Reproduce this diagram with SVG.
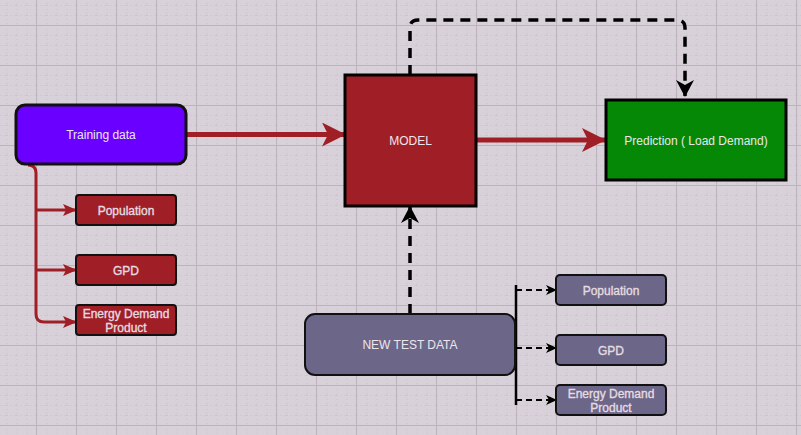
<svg xmlns="http://www.w3.org/2000/svg" width="801" height="435" viewBox="0 0 801 435">
  <defs>
    <pattern id="minor" width="10" height="10" patternUnits="userSpaceOnUse" x="6.5" y="5">
      <path d="M0.5,0 V10 M0,0.5 H10" stroke="#b9b0ba" stroke-width="1" stroke-dasharray="1,3" fill="none" opacity="0.5"/>
    </pattern>
    <pattern id="major" width="40" height="40" patternUnits="userSpaceOnUse" x="36" y="25">
      <path d="M0.5,0 V40 M0,0.5 H40" stroke="#bcb3bd" stroke-width="1" fill="none"/>
    </pattern>
    <marker id="bigRed" markerUnits="userSpaceOnUse" viewBox="0 0 24 24" markerWidth="24" markerHeight="24" refX="23" refY="12" orient="auto">
      <path d="M0,0 L24,12 L0,24 L6,12 z" fill="#a01f27"/>
    </marker>
    <marker id="smallRed" markerUnits="userSpaceOnUse" viewBox="0 0 14 12" markerWidth="14" markerHeight="12" refX="13" refY="6" orient="auto">
      <path d="M0,0 L14,6 L0,12 L3,6 z" fill="#a01f27"/>
    </marker>
    <marker id="blackBig" markerUnits="userSpaceOnUse" viewBox="0 0 17 18" markerWidth="17" markerHeight="18" refX="16" refY="9" orient="auto">
      <path d="M0,0 L17,9 L0,18 L5,9 z" fill="#000"/>
    </marker>
    <marker id="blackSmall" markerUnits="userSpaceOnUse" viewBox="0 0 11 10" markerWidth="11" markerHeight="10" refX="10" refY="5" orient="auto">
      <path d="M0,0 L11,5 L0,10 L3,5 z" fill="#000"/>
    </marker>
  </defs>
  <style>
    .lbl { font-family: "Liberation Sans", Arial, sans-serif; font-size: 12px; fill: #ece6ec; text-anchor: middle; }
    .sm { font-family: "Liberation Sans", Arial, sans-serif; font-size: 12px; fill: #e4dce0; stroke: #e4dce0; stroke-width: 0.35; text-anchor: middle; }
    .redbox { fill: #a01f27; stroke: #111; stroke-width: 2; }
    .slate { fill: #6c6688; stroke: #111; stroke-width: 2; }
    .redline { stroke: #a01f27; fill: none; }
    .dash { stroke: #000; fill: none; }
  </style>
  <rect width="801" height="435" fill="#d8d1d9"/>
  <rect width="801" height="435" fill="url(#minor)"/>
  <rect width="801" height="435" fill="url(#major)"/>

  <g id="connectors">
    <line class="redline" x1="186" y1="134.5" x2="345" y2="134.5" stroke-width="5" marker-end="url(#bigRed)"/>
    <line class="redline" x1="476" y1="140" x2="605" y2="140" stroke-width="5" marker-end="url(#bigRed)"/>
    <path class="redline" stroke-width="3" d="M28,165 Q36,165 36,173 V314 Q36,322 44,322 H76" marker-end="url(#smallRed)"/>
    <line class="redline" stroke-width="3" x1="36" y1="210" x2="76" y2="210" marker-end="url(#smallRed)"/>
    <line class="redline" stroke-width="3" x1="36" y1="270" x2="76" y2="270" marker-end="url(#smallRed)"/>
    <path class="dash" stroke-width="3.5" stroke-dasharray="10,7" d="M410,75 V28 Q410,20 418,20 H677 Q685,20 685,28 V96" marker-end="url(#blackBig)"/>
    <line class="dash" stroke-width="3.5" stroke-dasharray="10,7" x1="410" y1="314" x2="410" y2="207" marker-end="url(#blackBig)"/>
    <line x1="516" y1="285" x2="516" y2="405" stroke="#000" stroke-width="2.5"/>
    <line class="dash" stroke-width="2" stroke-dasharray="6,4" x1="516" y1="290" x2="556" y2="290" marker-end="url(#blackSmall)"/>
    <line class="dash" stroke-width="2" stroke-dasharray="6,4" x1="516" y1="348" x2="556" y2="348" marker-end="url(#blackSmall)"/>
    <line class="dash" stroke-width="2" stroke-dasharray="6,4" x1="516" y1="400" x2="556" y2="400" marker-end="url(#blackSmall)"/>
  </g>

  <g id="training">
    <rect x="16" y="105" width="170" height="59" rx="9" fill="#6a00ff" stroke="#111" stroke-width="3"/>
    <text class="lbl" x="101" y="139">Training data</text>
  </g>
  <g id="model">
    <rect x="345" y="75" width="131" height="131" fill="#a01f27" stroke="#000" stroke-width="3"/>
    <text class="lbl" x="410.5" y="145">MODEL</text>
  </g>
  <g id="prediction">
    <rect x="606" y="100" width="180" height="80" fill="#058805" stroke="#000" stroke-width="3"/>
    <text class="lbl" x="696" y="145">Prediction ( Load Demand)</text>
  </g>
  <g id="train-population">
    <rect class="redbox" x="76" y="195" width="100" height="30" rx="3"/>
    <text class="sm" x="126" y="214.5">Population</text>
  </g>
  <g id="train-gpd">
    <rect class="redbox" x="76" y="255" width="100" height="30" rx="3"/>
    <text class="sm" x="126" y="274.5">GPD</text>
  </g>
  <g id="train-energy">
    <rect class="redbox" x="76" y="305" width="100" height="30" rx="3"/>
    <text class="sm" x="126" y="318">Energy Demand</text>
    <text class="sm" x="126" y="332">Product</text>
  </g>
  <g id="new-test-data">
    <rect class="slate" x="305" y="314" width="210" height="61" rx="10"/>
    <text class="lbl" x="410" y="349">NEW TEST DATA</text>
  </g>
  <g id="test-population">
    <rect class="slate" x="556" y="275" width="110" height="30" rx="4"/>
    <text class="sm" x="611" y="294.5">Population</text>
  </g>
  <g id="test-gpd">
    <rect class="slate" x="556" y="335" width="110" height="30" rx="4"/>
    <text class="sm" x="611" y="354.5">GPD</text>
  </g>
  <g id="test-energy">
    <rect class="slate" x="556" y="385" width="110" height="30" rx="4"/>
    <text class="sm" x="611" y="398">Energy Demand</text>
    <text class="sm" x="611" y="412">Product</text>
  </g>
</svg>
